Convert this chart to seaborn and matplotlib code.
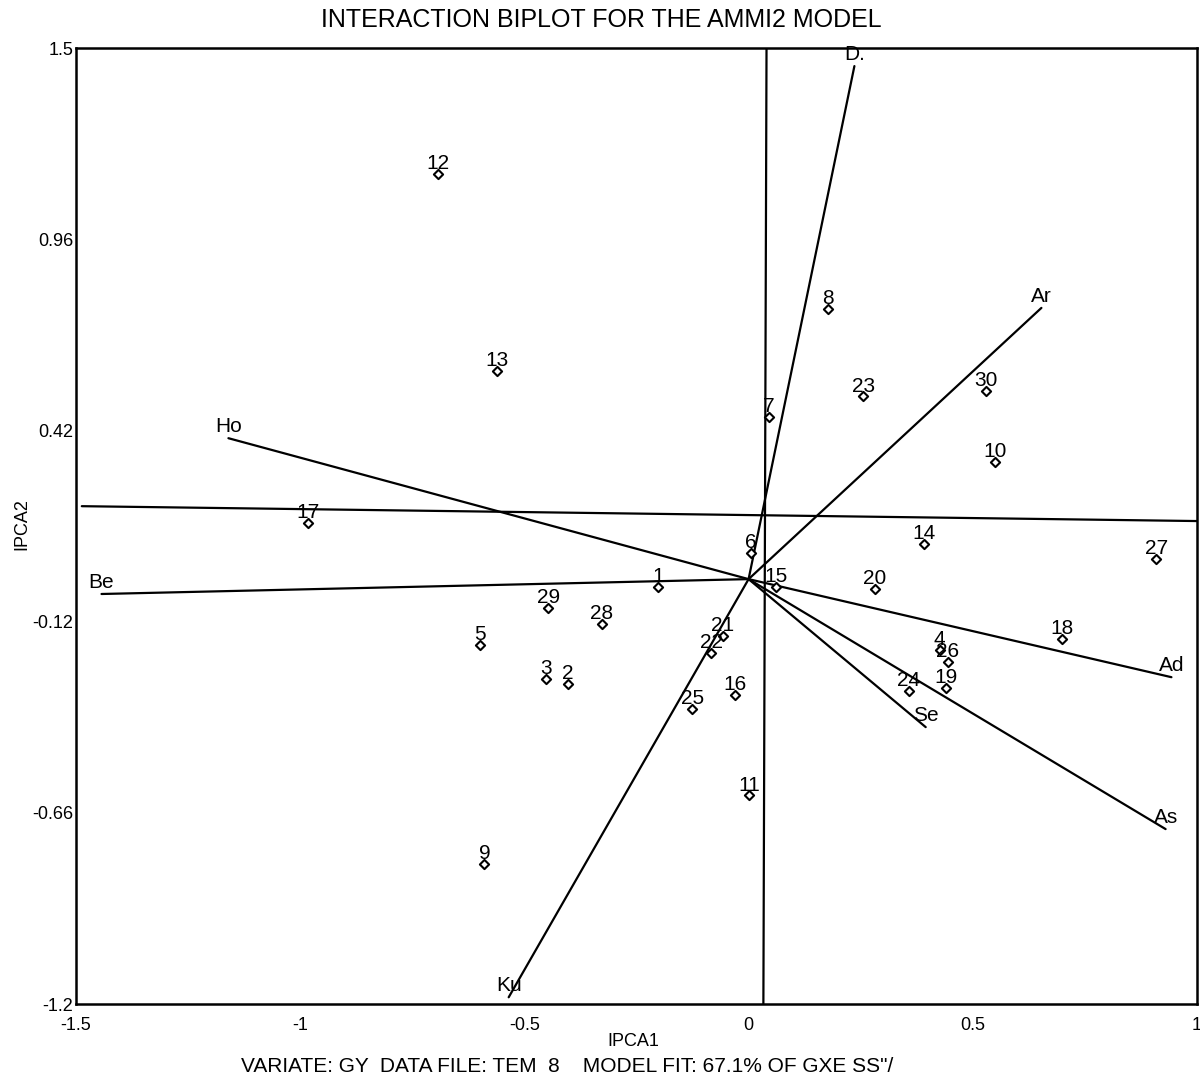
import matplotlib
matplotlib.use("Agg")
import matplotlib.pyplot as plt
import pandas as pd
import seaborn as sns

# genotype scores
genotypes = [str(i) for i in range(1, 31)]
ipca1 = [-0.201, -0.403, -0.451, 0.426, -0.600, 0.005, 0.045, 0.176, -0.589, 0.549,
         0.001, -0.692, -0.562, 0.391, 0.062, -0.030, -0.982, 0.699, 0.440, 0.282,
         -0.057, -0.083, 0.256, 0.357, -0.126, 0.444, 0.909, -0.328, -0.447, 0.529]
ipca2 = [-0.023, -0.297, -0.282, -0.200, -0.186, 0.075, 0.457, 0.763, -0.805, 0.330,
         -0.611, 1.144, 0.588, 0.100, -0.023, -0.327, 0.159, -0.170, -0.307, -0.028,
         -0.160, -0.209, 0.516, -0.317, -0.366, -0.234, 0.056, -0.126, -0.082, 0.531]

# environment vectors
environments = ["D.", "Ar", "Ho", "Be", "Ad", "As", "Se", "Ku"]
env_ipca1 = [0.236, 0.653, -1.160, -1.443, 0.943, 0.930, 0.395, -0.535]
env_ipca2 = [1.449, 0.766, 0.398, -0.042, -0.277, -0.706, -0.418, -1.181]

# reference lines
vref_x = [0.040, 0.033]
vref_y = [1.5, -1.2]
href_x = [-1.487, 1.0]
href_y = [0.206, 0.164]

xticks = [-1.5, -1, -0.5, 0, 0.5, 1]
xtick_labels = ["-1.5", "-1", "-0.5", "0", "0.5", "1"]
yticks = [1.5, 0.96, 0.42, -0.12, -0.66, -1.2]
ytick_labels = ["1.5", "0.96", "0.42", "-0.12", "-0.66", "-1.2"]

sns.set_style("white")
plt.rcParams["font.family"] = ["Liberation Sans", "DejaVu Sans"]
plt.rcParams["text.color"] = "black"

fig = plt.figure(figsize=(12, 10.84), dpi=100)
ax = fig.add_axes([0.0633, 0.0738, 0.9342, 0.8819])

ax.plot(vref_x, vref_y, color="black", lw=1.6)
ax.plot(href_x, href_y, color="black", lw=1.6)

for ex, ey, name in zip(env_ipca1, env_ipca2, environments):
    ax.plot([0, ex], [0, ey], color="black", lw=1.6)
    ax.annotate(name, (ex, ey), xytext=(0, 4.5), textcoords="offset points",
                ha="center", va="baseline", fontsize=15, color="black")

df = pd.DataFrame({"IPCA1": ipca1, "IPCA2": ipca2, "gen": genotypes})
sns.scatterplot(data=df, x="IPCA1", y="IPCA2", marker="D", s=22,
                facecolor="white", edgecolor="black", linewidth=1.5, ax=ax, zorder=3)
for gx, gy, g in zip(ipca1, ipca2, genotypes):
    ax.annotate(g, (gx, gy), xytext=(0, 3.5), textcoords="offset points",
                ha="center", va="baseline", fontsize=15, color="black")

ax.set_xlim(-1.5, 1)
ax.set_ylim(-1.2, 1.5)
ax.set_xticks(xticks)
ax.set_xticklabels(xtick_labels)
ax.set_yticks(yticks)
ax.set_yticklabels(ytick_labels)
ax.set_xticks([v / 10 for v in range(-15, 11)], minor=True)
ax.set_yticks([1.5 - 0.135 * i for i in range(21)], minor=True)
ax.tick_params(axis="both", which="major", direction="in", length=6, width=1.2,
               color="grey", labelsize=13, labelcolor="black")
ax.tick_params(axis="both", which="minor", direction="in", length=2.5, width=1,
               color="grey")
ax.tick_params(axis="x", which="major", pad=9)
ax.tick_params(axis="y", which="major", pad=2)
ax.set_xlabel("")
ax.set_ylabel("")
for sp in ax.spines.values():
    sp.set_visible(True)
    sp.set_color("black")
    sp.set_linewidth(1.8)

fig.text(0.501, 0.9815, "INTERACTION BIPLOT FOR THE AMMI2 MODEL", ha="center",
         va="center", fontsize=18)
fig.text(0.528, 0.0395, "IPCA1", ha="center", va="center", fontsize=13)
fig.text(0.018, 0.5166, "IPCA2", ha="center", va="center", rotation=90, fontsize=13)
fig.text(0.473, 0.0157, "VARIATE: GY  DATA FILE: TEM  8    MODEL FIT: 67.1% OF GXE SS\"/",
         ha="center", va="center", fontsize=15)

fig.savefig("out.png", dpi=100)
